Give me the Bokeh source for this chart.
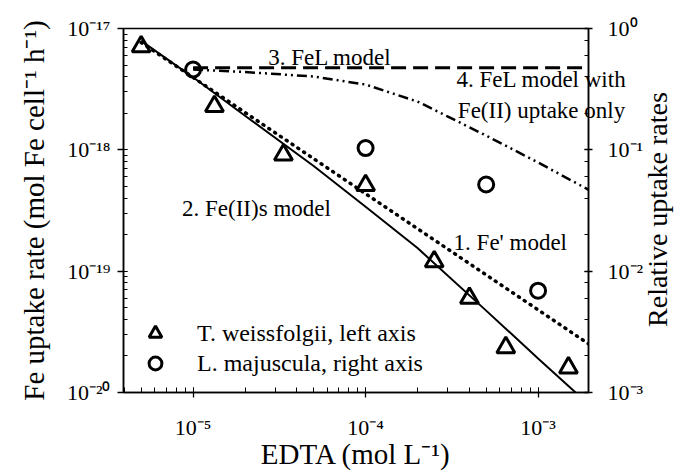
from math import pi
from bokeh.plotting import figure
from bokeh.models import (Range1d, LogScale, LogAxis, CustomJSTickFormatter,
                          Label, Legend, LegendItem, Title)
from bokeh.embed import file_html
from bokeh.resources import INLINE

# ---------------- data ----------------
# T. weissfolgii measured uptake rates (left axis)
tw_edta = [5e-6, 1.33e-5, 3.34e-5, 1.0e-4, 2.5e-4, 4.0e-4, 6.5e-4, 1.5e-3]
tw_rate = [7.1e-18, 2.28e-18, 9.1e-19, 5.1e-19, 1.2e-19, 6.0e-20, 2.35e-20, 1.6e-20]

# L. majuscula relative uptake rates (right axis)
lm_edta = [1e-5, 1e-4, 5e-4, 1e-3]
lm_rel = [0.459, 0.1035, 0.0518, 0.0069]

# 1. Fe' model (left axis)
fe_prime_edta = [5e-6, 1e-5, 1e-4, 1e-3, 2e-3]
fe_prime_rate = [7.67e-18, 3.95e-18, 4.35e-19, 4.8e-20, 2.47e-20]

# 2. Fe(II)s model (left axis)
fe2s_edta = [5e-6, 1e-5, 2e-5, 5e-5, 1e-4, 2e-4, 5e-4, 1e-3, 1.65e-3]
fe2s_rate = [7.9e-18, 3.96e-18, 1.91e-18, 7.35e-19, 3.4e-19, 1.55e-19,
             4.73e-20, 1.91e-20, 1.0e-20]

# 3. FeL model (right axis)
fel_edta = [1e-5, 2e-3]
fel_rel = [0.475, 0.475]

# 4. FeL model with Fe(II) uptake only (right axis)
fel2_edta = [1e-5, 2e-5, 5e-5, 1e-4, 2e-4, 3e-4, 5e-4, 1e-3, 2e-3]
fel2_rel = [0.459, 0.438, 0.402, 0.345, 0.25, 0.188, 0.131, 0.0786, 0.0462]

x_label = "EDTA (mol L\u207b\u00b9)"
y_label = "Fe uptake rate (mol Fe cell\u207b\u00b9 h\u207b\u00b9)"
y2_label = "Relative uptake rates"
legend_labels = ["T. weissfolgii, left axis", "L. majuscula, right axis"]
note4_lines = ["4. FeL model with", "Fe(II) uptake only"]

FONT = "Liberation Serif"

p = figure(frame_width=465, frame_height=364, x_axis_type="log", y_axis_type="log",
           x_range=Range1d(3.95e-6, 1.96e-3), y_range=Range1d(1e-20, 1e-17),
           output_backend="svg", toolbar_location=None,
           min_border_left=123, min_border_right=88,
           min_border_top=28, min_border_bottom=81)

p.extra_y_ranges = {"rel": Range1d(1e-3, 1.0)}
p.extra_y_scales = {"rel": LogScale()}
ax_r = LogAxis(y_range_name="rel")
p.add_layout(ax_r, "right")

p.grid.visible = False
p.outline_line_color = "black"
p.outline_line_width = 1.5
p.background_fill_color = "white"
p.border_fill_color = "white"

fmt_code = """
const s = {'-':'\u207b','0':'\u2070','1':'\u00b9','2':'\u00b2','3':'\u00b3','4':'\u2074',
           '5':'\u2075','6':'\u2076','7':'\u2077','8':'\u2078','9':'\u2079'};
const e = Math.round(Math.log10(tick));
return '10' + String(e).split('').map(c => s[c]).join('');
"""

xa = p.xaxis[0]
ya = p.yaxis[0]
for ax in (xa, ya, ax_r):
    ax.formatter = CustomJSTickFormatter(code=fmt_code)
    ax.axis_line_color = "black"
    ax.axis_line_width = 1.5
    ax.major_tick_line_color = "black"
    ax.minor_tick_line_color = "black"
    ax.major_tick_line_width = 1.3
    ax.minor_tick_line_width = 1
    ax.major_label_text_font = FONT
    ax.major_label_text_font_size = "22px"
    ax.major_label_text_color = "black"
    ax.axis_label_text_font = FONT
    ax.axis_label_text_font_size = "29px"
    ax.axis_label_text_font_style = "normal"
    ax.axis_label_text_color = "black"

xa.axis_label = x_label
xa.major_tick_out = 5
xa.major_tick_in = 0
xa.minor_tick_in = 5
xa.minor_tick_out = 0
xa.major_label_standoff = 17
xa.axis_label_standoff = -5

ya.axis_label = y_label
ya.major_tick_out = 6
ya.major_tick_in = 0
ya.minor_tick_in = 4
ya.minor_tick_out = 0
ya.major_label_standoff = 7
ya.axis_label_standoff = 14

ax_r.major_tick_out = 4
ax_r.major_tick_in = 4
ax_r.minor_tick_in = 4
ax_r.minor_tick_out = 0
ax_r.major_label_standoff = 15

# right-hand axis title, reading bottom-to-top, hosted in the right panel
p.add_layout(Label(x=4.9e-3, y=3.22e-19, text=y2_label, angle=pi / 2,
                   text_align="center", text_baseline="middle",
                   text_font=FONT, text_font_size="28px",
                   text_color="black"), "right")

# model curves
p.line(fe2s_edta, fe2s_rate, line_color="black", line_width=2)
p.line(fe_prime_edta, fe_prime_rate, line_color="black", line_width=3.5,
       line_dash="1 6", line_cap="round")
p.line(fel_edta, fel_rel, y_range_name="rel", line_color="black",
       line_width=3, line_dash="15 7")
p.line(fel2_edta, fel2_rel, y_range_name="rel", line_color="black",
       line_width=2.5, line_dash="10 4 2 4 2 4")

# measured points
tri = p.scatter(tw_edta, tw_rate, marker="triangle", size=18, fill_color=None,
                line_color="black", line_width=3)
cir = p.scatter(lm_edta, lm_rel, y_range_name="rel", marker="circle", size=15,
                fill_color=None, line_color="black", line_width=3)

# curve annotations
def note(x, y, text, align="center"):
    p.add_layout(Label(x=x, y=y, text=text, text_align=align,
                       text_baseline="alphabetic", text_font=FONT,
                       text_font_size="23px", text_color="black"))

note(6.2e-5, 5.8e-18, "3. FeL model")
note(2.33e-5, 3.28e-19, "2. Fe(II)s model")
note(6.9e-4, 1.73e-19, "1. Fe' model")

# note 4 runs past the right edge of the frame in the original, so it is
# drawn from the top panel (not clipped to the frame)
note4 = Title(text="\n" * 5 + "\n".join(note4_lines), align="right",
              offset=-38, standoff=-188, vertical_align="bottom",
              text_font=FONT, text_font_size="23px",
              text_font_style="normal", text_color="black",
              text_align="center", text_line_height=1.23)
p.add_layout(note4, "above")

# legend: one entry per box to control row positions
for item_label, rend, loc in [(legend_labels[0], tri, (11, 38)),
                              (legend_labels[1], cir, (11, 8))]:
    lg = Legend(items=[LegendItem(label=item_label, renderers=[rend])],
                location=loc, glyph_width=32, glyph_height=32,
                padding=5, label_standoff=26, label_text_font=FONT,
                label_text_font_size="24px", label_text_color="black",
                background_fill_alpha=0, border_line_alpha=0)
    p.add_layout(lg)

open("out.html", "w").write(file_html(p, INLINE))
